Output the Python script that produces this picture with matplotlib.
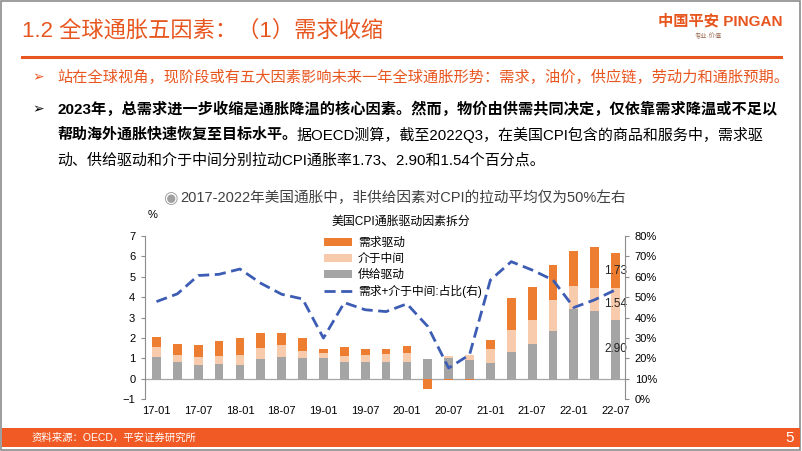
import numpy as np
import matplotlib
matplotlib.use("Agg")
import matplotlib.pyplot as plt
from matplotlib.patches import Rectangle
from matplotlib.lines import Line2D
from matplotlib.text import Annotation
from matplotlib.ticker import FuncFormatter

plt.rcParams['font.family'] = ['Liberation Sans', 'Noto Sans CJK SC', 'DejaVu Sans']

# quarterly data, 2017Q1 - 2022Q3
quarters = ['17-01', '17-04', '17-07', '17-10', '18-01', '18-04', '18-07', '18-10',
            '19-01', '19-04', '19-07', '19-10', '20-01', '20-04', '20-07', '20-10',
            '21-01', '21-04', '21-07', '21-10', '22-01', '22-04', '22-07']
supply = [1.08, 0.81, 0.68, 0.74, 0.69, 0.98, 1.08, 1.00, 1.03, 0.81, 0.81, 0.82,
          0.84, 0.98, 1.03, 0.92, 0.79, 1.31, 1.71, 2.34, 3.44, 3.31, 2.90]
middle = [0.48, 0.35, 0.37, 0.36, 0.46, 0.52, 0.55, 0.34, 0.23, 0.32, 0.34, 0.39,
          0.40, 0.00, 0.08, 0.23, 0.66, 1.09, 1.19, 1.50, 1.12, 1.16, 1.54]
demand = [0.49, 0.53, 0.61, 0.74, 0.82, 0.74, 0.61, 0.63, 0.21, 0.40, 0.30, 0.24,
          0.36, -0.53, -0.08, -0.06, 0.44, 1.58, 1.60, 1.74, 1.68, 2.00, 1.73]
share = [47.8, 51.6, 60.6, 61.2, 63.8, 56.8, 51.4, 49.1, 29.9, 47.3, 43.8, 42.9,
         46.7, 35.6, 15.2, 21.7, 58.4, 67.4, 63.3, 58.4, 44.9, 48.7, 53.6]

ORANGE = '#E8561F'
C_DEM = '#ED7D31'
C_MID = '#F8CBAD'
C_SUP = '#A5A5A5'
C_LINE = '#3D5DB5'

W, H = 802, 451
fig = plt.figure(figsize=(W / 100, H / 100), dpi=100)


def fx(px):
    return px / W


def fy(py):
    return 1 - py / H


# slide frame
fig.patches.append(Rectangle((0.001, 0.002), 0.997, 0.996, transform=fig.transFigure,
                             fill=False, edgecolor='#8C8C8C', linewidth=1.2))

# header
fig.text(fx(22), fy(31), '1.2 全球通胀五因素：（1）需求收缩', color=ORANGE,
         fontsize=16, va='center', ha='left')
fig.add_artist(Line2D([fx(22), fx(781)], [fy(57), fy(57)], color=ORANGE, linewidth=2.2))
fig.text(fx(782), fy(21), '中国平安 PINGAN', color=ORANGE, fontsize=11, fontweight='bold',
         va='center', ha='right')
fig.text(fx(708), fy(36), '专业·价值', color='#9A6A50', fontsize=4.5, va='center', ha='center')

# bullets
fig.text(fx(32), fy(77), '➢', color=ORANGE, fontsize=10, va='center')
fig.text(fx(57), fy(77), '站在全球视角，现阶段或有五大因素影响未来一年全球通胀形势：需求，油价，供应链，劳动力和通胀预期。',
         color=ORANGE, fontsize=10.95, va='center')
fig.text(fx(32), fy(109), '➢', color='black', fontsize=10, va='center')
fig.text(fx(57), fy(109), '2023年，总需求进一步收缩是通胀降温的核心因素。然而，物价由供需共同决定，仅依靠需求降温或不足以',
         color='black', fontsize=10.95, fontweight='bold', va='center')
t2 = fig.text(fx(57), fy(134.5), '帮助海外通胀快速恢复至目标水平。', color='black', fontsize=10.8,
              fontweight='bold', va='center')
fig.add_artist(Annotation('据OECD测算，截至2022Q3，在美国CPI包含的商品和服务中，需求驱',
                          xy=(1, 0.5), xycoords=t2, va='center', ha='left',
                          color='black', fontsize=10.8))
fig.text(fx(57), fy(160), '动、供给驱动和介于中间分别拉动CPI通胀率1.73、2.90和1.54个百分点。',
         color='black', fontsize=10.8, va='center')

# chart subtitle
fig.text(fx(170), fy(198), '◉', color='#A0A0A0', fontsize=12, va='center', ha='center',
         family=['DejaVu Sans'])
fig.text(fx(180), fy(198), '2017-2022年美国通胀中，非供给因素对CPI的拉动平均仅为50%左右',
         color='#404040', fontsize=10.5, va='center', ha='left')

# chart
ax = fig.add_axes([fx(145), fy(399), fx(625) - fx(145), fy(236) - fy(399)])
x = np.arange(len(quarters))
sup = np.array(supply)
mid = np.array(middle)
dem = np.array(demand)
bw = 0.42

pos_base = np.zeros(len(x))
neg_base = np.zeros(len(x))
bottoms = []
for vals in (sup, mid, dem):
    b = np.where(vals >= 0, pos_base, neg_base)
    bottoms.append(b)
    pos_base = pos_base + np.where(vals >= 0, vals, 0)
    neg_base = neg_base + np.where(vals < 0, vals, 0)

ax.bar(x, dem, bw, bottom=bottoms[2], color=C_DEM, label='需求驱动', zorder=2)
ax.bar(x, mid, bw, bottom=bottoms[1], color=C_MID, label='介于中间', zorder=2)
ax.bar(x, sup, bw, bottom=bottoms[0], color=C_SUP, label='供给驱动', zorder=2)

ax.set_xlim(-0.55, 22.45)
ax.set_ylim(-1, 7)
ax.set_yticks(range(-1, 8))
ax.set_xticks(x[::2])
ax.set_xticklabels(quarters[::2])
ax.axhline(0, color='#A6A6A6', linewidth=0.9, zorder=1)
for s in ('top', 'right', 'bottom'):
    ax.spines[s].set_visible(False)
ax.spines['left'].set_color('#8C8C8C')
ax.tick_params(axis='y', length=3, color='#8C8C8C', labelsize=8, pad=4)
ax.tick_params(axis='x', length=0, labelsize=8, pad=5)

# value labels for the latest quarter
last = len(x) - 1
for vals, b in ((dem, bottoms[2]), (mid, bottoms[1]), (sup, bottoms[0])):
    ax.text(x[last], b[last] + vals[last] / 2, f'{vals[last]:.2f}', fontsize=8.5,
            ha='center', va='center', color='#222222', zorder=4)

ax2 = ax.twinx()
ax2.plot(x, share, color=C_LINE, linewidth=2.0, dashes=(4, 2),
         label='需求+介于中间:占比(右)', zorder=3)
ax2.set_ylim(0, 80)
ax2.set_yticks(range(0, 81, 10))
ax2.yaxis.set_major_formatter(FuncFormatter(lambda v, p: f'{v:.0f}%'))
for s in ('top', 'left', 'bottom'):
    ax2.spines[s].set_visible(False)
ax2.spines['right'].set_color('#8C8C8C')
ax2.tick_params(axis='y', length=3, color='#8C8C8C', labelsize=8, pad=4)

h1, l1 = ax.get_legend_handles_labels()
h2, l2 = ax2.get_legend_handles_labels()
ax2.legend(h1 + h2, l1 + l2, loc='upper left', bbox_to_anchor=(0.35, 1.06), frameon=False,
           fontsize=8.5, handlelength=2.4, handleheight=0.7, labelspacing=0.35,
           handletextpad=0.5)

fig.text(fx(153), fy(215), '%', fontsize=8, ha='center', va='center')
fig.text(fx(401), fy(222), '美国CPI通胀驱动因素拆分', fontsize=8.6, ha='center', va='center')

# footer
fig.patches.append(Rectangle((0.002, fy(447)), 0.996, (447 - 428) / H, transform=fig.transFigure,
                             color='#F15A24', linewidth=0))
fig.text(fx(32), fy(438), '资料来源：OECD，平安证券研究所', color='white', fontsize=7.5, va='center')
fig.text(fx(790), fy(438), '5', color='white', fontsize=11, va='center', ha='center')

fig.savefig('out.png', dpi=100)
